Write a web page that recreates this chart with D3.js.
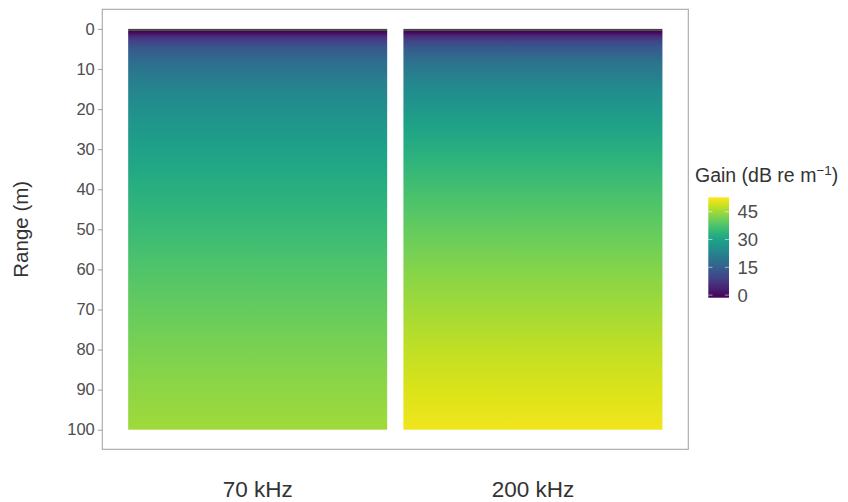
<!DOCTYPE html>
<html>
<head>
<meta charset="utf-8">
<script src="https://cdn.jsdelivr.net/npm/d3@7"></script>
<style>
  html, body { margin: 0; padding: 0; background: #fff; }
  svg { display: block; font-family: "Liberation Sans", Arial, Helvetica, sans-serif; }
</style>
</head>
<body>
<svg id="chart" width="848" height="502"></svg>
<script>
// Echosounder frequencies, one panel each
const frequencies = ["70 kHz", "200 kHz"];

// Ranges (m) at which the time-varied gain is sampled
const ranges = [0.5, 1, 1.5, 2, 3, 4, 5, 6, 8, 10, 12.5, 15, 20, 25, 30, 35, 40, 50, 60, 70, 80, 90, 100];

// Gain (dB re m^-1) at each range
const gain70 = [-1.4, 0.0, 3.4, 5.8, 9.2, 11.6, 13.5, 15.0, 17.5, 19.5, 21.4, 23.0, 25.6, 27.7, 29.5, 31.2, 32.7, 35.4, 37.8, 39.9, 41.8, 43.5, 45.0];
const gain200 = [-1.4, 0.1, 3.5, 6.0, 9.6, 12.0, 14.0, 15.7, 18.3, 20.5, 22.7, 24.6, 27.6, 30.2, 32.5, 34.7, 36.5, 39.8, 42.7, 45.3, 47.6, 49.7, 51.6];

// Near-field band where no gain is defined (drawn as missing)
const missingRange = [0, 0.5];

const rangeTicks = [0, 10, 20, 30, 40, 50, 60, 70, 80, 90, 100];
const gainTicks = [0, 15, 30, 45];
const gainLimits = [-1.4, 52.8];

const series = { "70 kHz": gain70, "200 kHz": gain200 };

const svg = d3.select("#chart");
const defs = svg.append("defs");

const panel = { left: 102.3, right: 688.3, top: 9.3, bottom: 449.3 };

const x = d3.scaleBand()
  .domain(frequencies)
  .range([panel.left, panel.right])
  .paddingInner(0.059)
  .paddingOuter(0.094);

const y = d3.scaleLinear().domain([0, 100]).range([28.9, 429.7]);

const color = d3.scaleSequential(d3.interpolateViridis).domain(gainLimits);

// Gain columns
frequencies.forEach((f, i) => {
  const gid = "gain-grad-" + i;
  const grad = defs.append("linearGradient")
    .attr("id", gid)
    .attr("gradientUnits", "userSpaceOnUse")
    .attr("x1", 0).attr("x2", 0)
    .attr("y1", y(ranges[0])).attr("y2", y(ranges[ranges.length - 1]));
  const span = ranges[ranges.length - 1] - ranges[0];
  grad.selectAll("stop")
    .data(ranges.map((r, k) => ({ r, g: series[f][k] })))
    .join("stop")
    .attr("offset", d => (d.r - ranges[0]) / span)
    .attr("stop-color", d => color(d.g));

  svg.append("rect")
    .attr("x", x(f)).attr("width", x.bandwidth())
    .attr("y", y(ranges[0])).attr("height", y(ranges[ranges.length - 1]) - y(ranges[0]))
    .attr("fill", `url(#${gid})`);

  svg.append("rect")
    .attr("x", x(f)).attr("width", x.bandwidth())
    .attr("y", y(missingRange[0])).attr("height", y(missingRange[1]) - y(missingRange[0]))
    .attr("fill", "#424242");

  // frequency label under each column
  svg.append("text")
    .attr("x", x(f) + x.bandwidth() / 2)
    .attr("y", 497)
    .attr("text-anchor", "middle")
    .attr("font-size", 22.5)
    .attr("fill", "#333333")
    .text(f);
});

// Panel border
svg.append("rect")
  .attr("x", panel.left).attr("y", panel.top)
  .attr("width", panel.right - panel.left).attr("height", panel.bottom - panel.top)
  .attr("fill", "none").attr("stroke", "#a6a6a6").attr("stroke-width", 1.1);

// Range axis
const yAxis = d3.axisLeft(y).tickValues(rangeTicks).tickSize(4.5).tickPadding(3);
const gy = svg.append("g").attr("transform", `translate(${panel.left},0)`).call(yAxis);
gy.select(".domain").remove();
gy.selectAll(".tick line").attr("stroke", "#a6a6a6").attr("stroke-width", 1.1);
gy.selectAll(".tick text")
  .attr("font-size", 16.5)
  .attr("fill", "#4d4d4d")
  .attr("font-family", "Liberation Sans, Arial, sans-serif");

svg.append("text")
  .attr("transform", `translate(28,${(panel.top + panel.bottom) / 2}) rotate(-90)`)
  .attr("text-anchor", "middle")
  .attr("font-size", 20.5)
  .attr("fill", "#333333")
  .text("Range (m)");

// Colour legend
const bar = { x: 708.3, y: 197.3, w: 20.7, h: 100.4 };
const ly = d3.scaleLinear().domain(gainLimits).range([bar.y + bar.h, bar.y]);

const lg = defs.append("linearGradient")
  .attr("id", "legend-grad")
  .attr("x1", 0).attr("x2", 0).attr("y1", 1).attr("y2", 0);
lg.selectAll("stop")
  .data(d3.range(0, 1.0001, 0.05))
  .join("stop")
  .attr("offset", t => t)
  .attr("stop-color", t => d3.interpolateViridis(t));

svg.append("rect")
  .attr("x", bar.x).attr("y", bar.y).attr("width", bar.w).attr("height", bar.h)
  .attr("fill", "url(#legend-grad)");

const legendTicks = svg.append("g");
gainTicks.forEach(v => {
  legendTicks.append("line")
    .attr("x1", bar.x).attr("x2", bar.x + bar.w / 5)
    .attr("y1", ly(v)).attr("y2", ly(v))
    .attr("stroke", "#ffffff").attr("stroke-opacity", 0.7).attr("stroke-width", 0.8);
  legendTicks.append("line")
    .attr("x1", bar.x + bar.w * 4 / 5).attr("x2", bar.x + bar.w)
    .attr("y1", ly(v)).attr("y2", ly(v))
    .attr("stroke", "#ffffff").attr("stroke-opacity", 0.7).attr("stroke-width", 0.8);
  legendTicks.append("text")
    .attr("x", 737.5)
    .attr("y", ly(v))
    .attr("dy", "0.36em")
    .attr("font-size", 18.5)
    .attr("fill", "#4d4d4d")
    .text(v);
});

const title = svg.append("text")
  .attr("x", 695)
  .attr("y", 182)
  .attr("font-size", 19.5)
  .attr("fill", "#333333");
title.append("tspan").text("Gain (dB re m");
title.append("tspan").attr("dy", -7).attr("font-size", 13.5).text("\u22121");
title.append("tspan").attr("dy", 7).text(")");
</script>
</body>
</html>
